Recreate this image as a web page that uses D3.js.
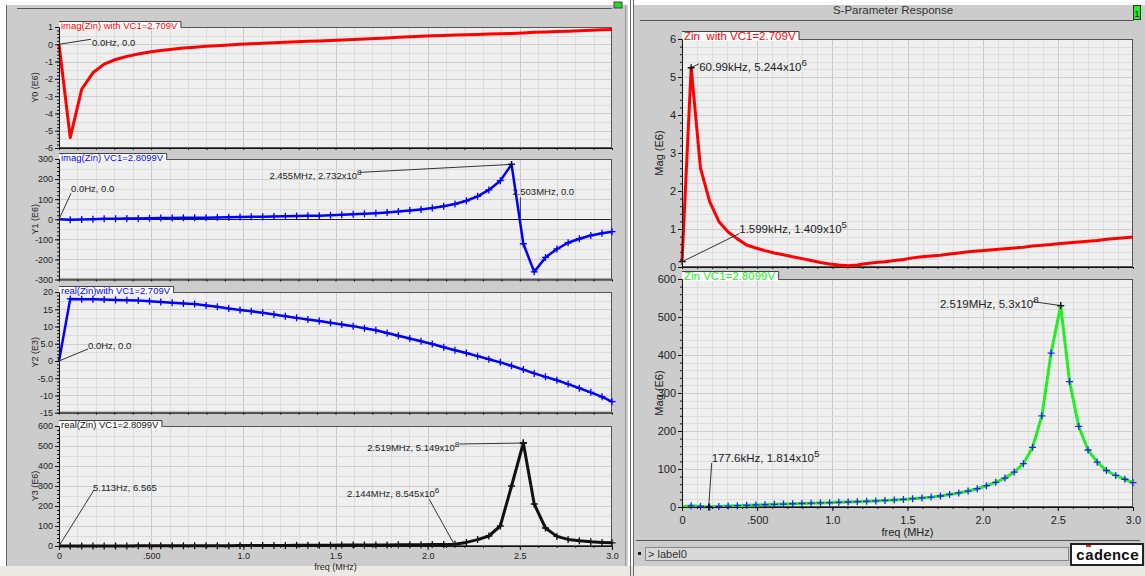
<!DOCTYPE html>
<html>
<head>
<meta charset="utf-8">
<script src="https://cdn.jsdelivr.net/npm/d3@7/dist/d3.min.js"></script>
<style>
  body { margin: 0; background: #ffffff; }
  svg { display: block; font-family: "Liberation Sans", Arial, sans-serif; }
</style>
</head>
<body>
<svg id="chart" width="1145" height="576"></svg>
<script>

// sweep points (MHz), shared by every trace
var freq = [0, 0.061, 0.123, 0.184, 0.245, 0.307, 0.368, 0.430, 0.491, 0.552,
            0.614, 0.675, 0.736, 0.798, 0.859, 0.921, 0.982, 1.043, 1.105, 1.166,
            1.228, 1.289, 1.350, 1.412, 1.473, 1.534, 1.596, 1.657, 1.719, 1.780,
            1.841, 1.903, 1.964, 2.025, 2.087, 2.148, 2.210, 2.271, 2.332, 2.394,
            2.455, 2.519, 2.578, 2.639, 2.701, 2.762, 2.823, 2.885, 2.946, 3.0];

// imag(Zin) with VC1=2.709V  (E6)
var imagZinA = [0, -5.4, -2.6, -1.65, -1.15, -0.88, -0.70, -0.56, -0.45, -0.36,
                -0.29, -0.22, -0.17, -0.12, -0.08, -0.04, 0.0, 0.03, 0.06, 0.09,
                0.12, 0.14, 0.17, 0.19, 0.22, 0.25, 0.28, 0.31, 0.34, 0.37,
                0.40, 0.43, 0.46, 0.49, 0.51, 0.53, 0.55, 0.57, 0.59, 0.61,
                0.63, 0.66, 0.69, 0.71, 0.74, 0.76, 0.79, 0.81, 0.84, 0.86];

// imag(Zin) VC1=2.8099V  (E6)
var imagZinB = [0, -3, -1, 0, 2, 3, 4, 4, 5, 6,
                6, 7, 8, 8, 9, 10, 11, 12, 13, 14,
                15, 16, 17, 18, 20, 22, 25, 27, 30, 34,
                38, 43, 49, 56, 65, 76, 92, 114, 146, 192,
                273.2, -122, -262, -190, -148, -117, -97, -81, -70, -62];

// real(Zin) with VC1=2.709V  (E3)
var realZinA = [0, 18.0, 17.9, 17.9, 17.8, 17.7, 17.6, 17.5, 17.3, 17.1,
                16.9, 16.7, 16.5, 16.1, 15.7, 15.2, 14.8, 14.4, 14.0, 13.5,
                13.0, 12.5, 12.0, 11.6, 11.1, 10.6, 10.1, 9.5, 8.9, 8.1,
                7.3, 6.5, 5.7, 4.9, 4.0, 3.1, 2.3, 1.4, 0.5, -0.4,
                -1.4, -2.5, -3.6, -4.6, -5.6, -6.7, -7.9, -9.1, -10.4, -11.8];

// real(Zin) VC1=2.8099V  (E6)
var realZinB = [0, 0.1, 0.2, 0.3, 0.4, 0.5, 0.6, 0.7, 0.8, 0.9,
                1.0, 1.1, 1.2, 1.4, 1.5, 1.7, 1.9, 2.1, 2.3, 2.6,
                2.9, 3.2, 3.5, 3.8, 4.1, 4.4, 4.7, 5.0, 5.3, 5.6,
                6.0, 6.4, 6.8, 7.3, 7.9, 8.5, 18, 32, 50, 100,
                300, 514.9, 210, 90, 48, 33, 26, 21, 18, 16];

// Zin magnitude with VC1=2.709V  (E6)
var magZinA = [0.141, 5.244, 2.60, 1.72, 1.20, 0.92, 0.74, 0.58, 0.50, 0.43,
               0.37, 0.32, 0.27, 0.22, 0.17, 0.12, 0.08, 0.05, 0.03, 0.05,
               0.09, 0.12, 0.14, 0.17, 0.20, 0.24, 0.27, 0.29, 0.31, 0.34,
               0.37, 0.40, 0.42, 0.44, 0.46, 0.48, 0.50, 0.52, 0.55, 0.57,
               0.59, 0.62, 0.64, 0.66, 0.68, 0.70, 0.73, 0.75, 0.77, 0.79];

// Zin magnitude VC1=2.8099V  (E6)
var magZinB = [0.5, 3.0, 1.5, 0.18, 1.5, 2.5, 3.5, 4.5, 5.5, 6.2,
               7.0, 7.8, 8.6, 9.3, 10.0, 10.8, 11.5, 12.3, 13.1, 14.0,
               15.0, 16.0, 17.2, 18.5, 20, 22, 24, 26, 29, 33,
               37, 42, 48, 56, 65, 76, 92, 114, 157, 240,
               405, 530, 330, 212, 150, 118, 96, 83, 73, 64];

// tick labels
var xTicks = [0, 0.5, 1.0, 1.5, 2.0, 2.5, 3.0];
var xTickLabels = ["0", ".500", "1.0", "1.5", "2.0", "2.5", "3.0"];
var y0Ticks = [1, 0, -1, -2, -3, -4, -5, -6];
var y0Labels = ["1", "0", "-1", "-2", "-3", "-4", "-5", "-6"];
var y1Ticks = [300, 200, 100, 0, -100, -200, -300];
var y1Labels = ["300", "200", "100", "0", "-100", "-200", "-300"];
var y2Ticks = [20, 15, 10, 5, 0, -5, -10, -15];
var y2Labels = ["20", "15", "10", "5.0", "0", "-5.0", "-10", "-15"];
var y3Ticks = [600, 500, 400, 300, 200, 100, 0];
var y3Labels = ["600", "500", "400", "300", "200", "100", "0"];
var magATicks = [6, 5, 4, 3, 2, 1, 0];
var magALabels = ["6", "5", "4", "3", "2", "1", "0"];
var magBTicks = [600, 500, 400, 300, 200, 100, 0];
var magBLabels = ["600", "500", "400", "300", "200", "100", "0"];


var svg = d3.select("#chart");

// ---- window chrome ----
svg.append("rect").attr("x", 7).attr("y", 5).attr("width", 621).attr("height", 561).attr("fill", "#cccccc");
svg.append("rect").attr("x", 634).attr("y", 5).attr("width", 511).attr("height", 561).attr("fill", "#cccccc");
svg.append("rect").attr("x", 0).attr("y", 566).attr("width", 1145).attr("height", 10).attr("fill", "#ece9e4");
svg.append("line").attr("x1", 6.5).attr("x2", 6.5).attr("y1", 5).attr("y2", 566).attr("stroke", "#666");
svg.append("line").attr("x1", 17).attr("x2", 612).attr("y1", 8.5).attr("y2", 8.5).attr("stroke", "#555");
svg.append("line").attr("x1", 625.5).attr("x2", 625.5).attr("y1", 5).attr("y2", 566).attr("stroke", "#999");
svg.append("line").attr("x1", 630.5).attr("x2", 630.5).attr("y1", 0).attr("y2", 576).attr("stroke", "#666");
svg.append("line").attr("x1", 633.5).attr("x2", 633.5).attr("y1", 0).attr("y2", 576).attr("stroke", "#666");
svg.append("rect").attr("x", 614).attr("y", 2).attr("width", 8).attr("height", 6).attr("fill", "#22dd22").attr("stroke", "#444");

// right window title bar
svg.append("path").attr("d", "M640,20.5H1133.5V5").attr("fill", "none").attr("stroke", "#555");
svg.append("text").attr("x", 893).attr("y", 14).attr("text-anchor", "middle")
  .attr("font-size", 11.5).attr("fill", "#333").text("S-Parameter Response");
svg.append("rect").attr("x", 1133.5).attr("y", 5.5).attr("width", 7).attr("height", 14)
  .attr("fill", "#22ee22").attr("stroke", "#333");
svg.append("text").attr("x", 1137).attr("y", 17).attr("text-anchor", "middle")
  .attr("font-size", 9).attr("fill", "#000").text("1");

// right window footer
svg.append("line").attr("x1", 636).attr("x2", 1140).attr("y1", 540.5).attr("y2", 540.5).attr("stroke", "#555");
svg.append("rect").attr("x", 638).attr("y", 552).attr("width", 3).attr("height", 3).attr("fill", "#222");
svg.append("rect").attr("x", 645.5).attr("y", 547.5).attr("width", 423).attr("height", 13)
  .attr("fill", "#d8d8d8").attr("stroke", "#888");
svg.append("text").attr("x", 648).attr("y", 558).attr("font-size", 11).attr("fill", "#333").text("> label0");
svg.append("rect").attr("x", 1071).attr("y", 544).attr("width", 72).attr("height", 21)
  .attr("fill", "#fff").attr("stroke", "#222").attr("stroke-width", 2);
svg.append("text").attr("x", 1076).attr("y", 560).attr("font-size", 15).attr("font-weight", "bold")
  .attr("font-family", "'Liberation Mono', 'DejaVu Sans Mono', monospace").attr("fill", "#111")
  .text("cadence");
svg.append("rect").attr("x", 1086).attr("y", 545).attr("width", 5).attr("height", 2).attr("fill", "#e22");


// ---- strips ----
var strips = [
  {x0: 59, x1: 612, y0: 27, y1: 148, domain: [-6, 1], ticks: y0Ticks, labels: y0Labels,
   values: imagZinA, color: "#ff0000", lw: 3, marks: null,
   title: "imag(Zin) with VC1=2.709V", yTitle: "Y0 (E6)", sub: 2, big: false, xAxis: false,
   notes: [{f: 0, v: 0, lx: 32, ly: -5, tx: 33, ty: 2, text: "0.0Hz, 0.0"}]},
  {x0: 59, x1: 612, y0: 159, y1: 279.5, domain: [-300, 300], ticks: y1Ticks, labels: y1Labels,
   values: imagZinB, color: "#0000ff", lw: 2.5, marks: "#0000ff", zero: true,
   title: "imag(Zin) VC1=2.8099V", yTitle: "Y1 (E6)", sub: 2, big: false, xAxis: false,
   notes: [{f: 0, v: 0, lx: 12, ly: -26, tx: 12, ty: -27, text: "0.0Hz, 0.0"},
           {f: 2.455, v: 273.2, lx: -152, ly: 8, tx: -150, ty: 15, align: "end", text: "2.455MHz, 2.732x10", sup: "8", mark: true},
           {f: 2.503, v: 0, lx: 0, ly: -22, tx: -8, ty: -24, text: "2.503MHz, 0.0"}]},
  {x0: 59, x1: 612, y0: 292, y1: 412.7, domain: [-15, 20], ticks: y2Ticks, labels: y2Labels,
   values: realZinA, color: "#0000ff", lw: 2.5, marks: "#0000ff",
   title: "real(Zin)with VC1=2.709V", yTitle: "Y2 (E3)", sub: 2, big: false, xAxis: false,
   notes: [{f: 0, v: 0, lx: 29, ly: -12, tx: 29, ty: -11.5, text: "0.0Hz, 0.0"}]},
  {x0: 59, x1: 612, y0: 426, y1: 546, domain: [0, 600], ticks: y3Ticks, labels: y3Labels,
   values: realZinB, color: "#111111", lw: 3, marks: "#111111",
   title: "real(Zin) VC1=2.8099V", yTitle: "Y3 (E6)", sub: 2, big: false, xAxis: true,
   notes: [{f: 0, v: 0, lx: 35, ly: -56, tx: 34, ty: -55, text: "5.113Hz, 6.565"},
           {f: 2.519, v: 514.9, lx: -64, ly: 1, tx: -64, ty: 8, align: "end", text: "2.519MHz, 5.149x10", sup: "8", mark: true},
           {f: 2.144, v: 8.545, lx: -25, ly: -45, tx: -15, ty: -47, align: "end", text: "2.144MHz, 8.545x10", sup: "6"}]},
  {x0: 682, x1: 1133, y0: 39, y1: 267, domain: [0, 6], ticks: magATicks, labels: magALabels,
   values: magZinA, color: "#ff0000", lw: 3, marks: null,
   title: "Zin\u00a0 with VC1=2.709V", yTitle: "Mag (E6)", sub: 5, big: true, xAxis: false,
   notes: [{f: 0.061, v: 5.244, lx: 8, ly: -4, tx: 8, ty: 3, text: "60.99kHz, 5.244x10", sup: "6", mark: true},
           {f: 0.0016, v: 0.1409, lx: 57, ly: -28, tx: 57, ty: -29, text: "1.599kHz, 1.409x10", sup: "5", mark: true}]},
  {x0: 682, x1: 1133, y0: 279, y1: 507, domain: [0, 600], ticks: magBTicks, labels: magBLabels,
   values: magZinB, color: "#22ee22", lw: 3, marks: "#2222ff",
   title: "Zin VC1=2.8099V", yTitle: "Mag (E6)", sub: 5, big: true, xAxis: true,
   notes: [{f: 0.1776, v: 0.1814, lx: 3, ly: -44, tx: 3, ty: -45, text: "177.6kHz, 1.814x10", sup: "5", mark: true},
           {f: 2.519, v: 530, lx: -28, ly: -4, tx: -22, ty: 2, align: "end", text: "2.519MHz, 5.3x10", sup: "8", mark: true}]}
];

var plus = "M-3.5,0H3.5M0,-3.5V3.5";

function drawStrip(s) {
  var fs = s.big ? 11 : 9;
  var nfs = s.big ? 11.5 : 9.5;
  var x = d3.scaleLinear().domain([0, 3]).range([s.x0, s.x1]);
  var y = d3.scaleLinear().domain(s.domain).range([s.y1, s.y0]);
  var step = s.ticks[0] - s.ticks[1];
  var g = svg.append("g");

  g.append("rect").attr("x", s.x0).attr("y", s.y0).attr("width", s.x1 - s.x0).attr("height", s.y1 - s.y0)
    .attr("fill", "#efefef");

  // grid
  var minorX = d3.range(0, 3.0001, 0.1);
  g.selectAll(".gxm").data(minorX).enter().append("line")
    .attr("x1", d => Math.round(x(d)) + 0.5).attr("x2", d => Math.round(x(d)) + 0.5)
    .attr("y1", s.y0).attr("y2", s.y1).attr("stroke", "#dcdcdc");
  g.selectAll(".gxM").data(xTicks).enter().append("line")
    .attr("x1", d => Math.round(x(d)) + 0.5).attr("x2", d => Math.round(x(d)) + 0.5)
    .attr("y1", s.y0).attr("y2", s.y1).attr("stroke", "#c9c9c9");
  var minorY = d3.range(s.domain[0], s.domain[1] + step / 1000, step / s.sub);
  g.selectAll(".gym").data(minorY).enter().append("line")
    .attr("y1", d => Math.round(y(d)) + 0.5).attr("y2", d => Math.round(y(d)) + 0.5)
    .attr("x1", s.x0).attr("x2", s.x1).attr("stroke", "#dcdcdc");
  g.selectAll(".gyM").data(s.ticks).enter().append("line")
    .attr("y1", d => Math.round(y(d)) + 0.5).attr("y2", d => Math.round(y(d)) + 0.5)
    .attr("x1", s.x0).attr("x2", s.x1).attr("stroke", "#cdcdcd");

  if (s.zero) {
    g.append("line").attr("x1", s.x0).attr("x2", s.x1)
      .attr("y1", Math.round(y(0)) + 0.5).attr("y2", Math.round(y(0)) + 0.5).attr("stroke", "#222");
  }

  // frame
  g.append("rect").attr("x", s.x0 + 0.5).attr("y", s.y0 + 0.5).attr("width", s.x1 - s.x0 - 1)
    .attr("height", s.y1 - s.y0 - 1).attr("fill", "none").attr("stroke", "#555");

  // data trace
  var pts = freq.map(function(f, i) { return [f, s.values[i]]; });
  g.append("path").datum(pts)
    .attr("fill", "none").attr("stroke", s.color).attr("stroke-width", s.lw)
    .attr("stroke-linejoin", "round")
    .attr("d", d3.line().x(d => x(d[0])).y(d => y(d[1])));
  if (s.marks) {
    g.selectAll(".mk").data(pts.slice(1)).enter().append("path")
      .attr("d", plus).attr("transform", d => "translate(" + x(d[0]) + "," + y(d[1]) + ")")
      .attr("stroke", s.marks).attr("stroke-width", 1.3).attr("fill", "none");
  }

  // title tab
  var th = s.big ? 8 : 6;
  var tab = g.append("g");
  var tabRect = tab.append("rect").attr("x", s.x0).attr("y", s.y0 - th).attr("height", th + 2).attr("fill", "#ffffff");
  var tt = tab.append("text").attr("x", s.x0 + 2).attr("y", s.y0 + (s.big ? 1 : 1.5))
    .attr("font-size", nfs).attr("fill", s.color === "#111111" ? "#111" : s.color).text(s.title);
  var tw = tt.node().getComputedTextLength() + 5;
  tabRect.attr("width", tw);
  tab.append("path").attr("d", "M" + s.x0 + "," + (s.y0 - th + 0.5) + "H" + (s.x0 + tw + 0.5) + "V" + s.y0)
    .attr("fill", "none").attr("stroke", "#444");
  tab.raise();

  // y axis
  var ya = g.append("g").attr("transform", "translate(" + s.x0 + ",0)")
    .call(d3.axisLeft(y).tickValues(s.ticks).tickFormat((d, i) => s.labels[i]).tickSize(4).tickSizeOuter(0).tickPadding(2));
  ya.append("g").call(d3.axisLeft(y).tickValues(d3.range(s.domain[0], s.domain[1] + step / 1000, step / 5))
    .tickFormat("").tickSize(2).tickSizeOuter(0));
  ya.selectAll("text").attr("font-size", fs).attr("fill", "#222").attr("font-family", null);
  ya.selectAll("path.domain").attr("stroke", "#111");
  ya.selectAll("line").attr("stroke", "#111");

  g.append("text")
    .attr("transform", "translate(" + (s.big ? 663 : 38) + "," + ((s.y0 + s.y1) / 2) + ") rotate(-90)")
    .attr("text-anchor", "middle").attr("font-size", fs).attr("fill", "#222").text(s.yTitle);

  // x axis
  var xa = g.append("g").attr("transform", "translate(0," + s.y1 + ")");
  xa.append("g").call(d3.axisBottom(x).tickValues(d3.range(0, 3.0001, 0.1)).tickFormat("").tickSize(2).tickSizeOuter(0));
  if (s.xAxis) {
    xa.append("g").call(d3.axisBottom(x).tickValues(xTicks).tickFormat((d, i) => xTickLabels[i])
      .tickSize(4).tickSizeOuter(0).tickPadding(s.big ? 5 : 3));
    g.append("text").attr("x", (s.x0 + s.x1) / 2).attr("y", s.big ? 536 : 570)
      .attr("text-anchor", "middle").attr("font-size", fs).attr("fill", "#222").text("freq (MHz)");
  }
  xa.selectAll("text").attr("font-size", fs).attr("fill", "#222").attr("font-family", null);
  xa.selectAll("path.domain").attr("stroke", "#111");
  xa.selectAll("line").attr("stroke", "#111");

  // marker annotations
  s.notes.forEach(function(n) {
    var ax = x(n.f), ay = y(n.v);
    g.append("line").attr("x1", ax).attr("y1", ay).attr("x2", ax + n.lx).attr("y2", ay + n.ly)
      .attr("stroke", "#333").attr("stroke-width", 1);
    if (n.mark) {
      g.append("path").attr("d", plus).attr("transform", "translate(" + ax + "," + ay + ")")
        .attr("stroke", "#111").attr("stroke-width", 1.3);
    }
    var t = g.append("text").attr("x", ax + n.tx).attr("y", ay + n.ty)
      .attr("text-anchor", n.align || "start").attr("font-size", nfs).attr("fill", "#222").text(n.text);
    if (n.sup) {
      t.append("tspan").attr("dy", s.big ? -5 : -4).attr("font-size", nfs * 0.85).text(n.sup);
    }
  });
}

strips.forEach(drawStrip);

</script>
</body>
</html>
